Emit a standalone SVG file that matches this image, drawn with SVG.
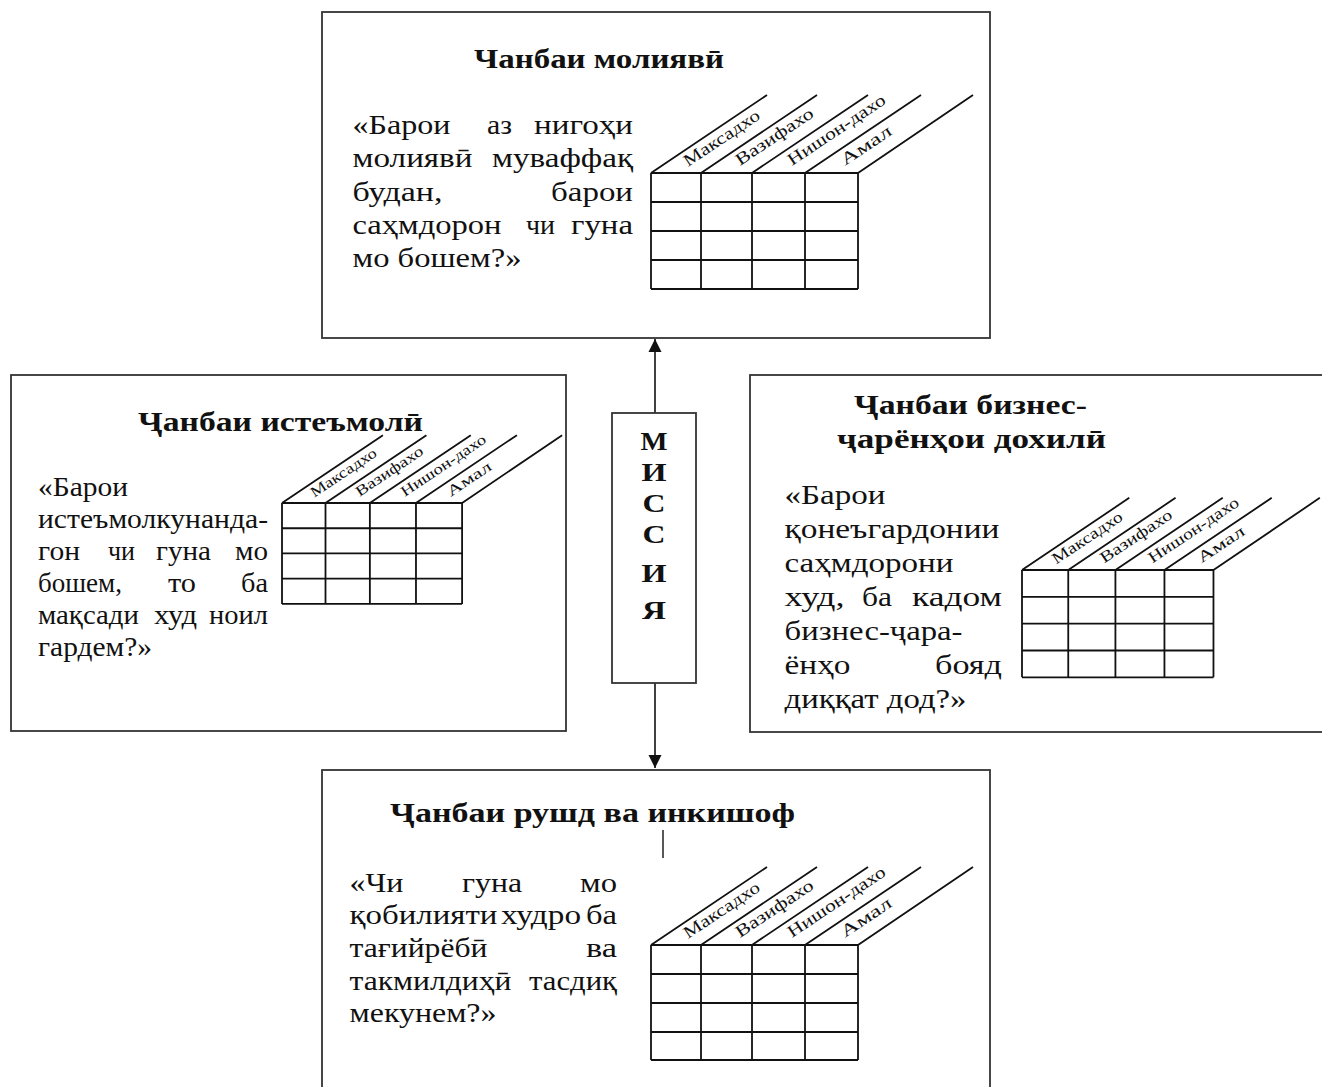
<svg xmlns="http://www.w3.org/2000/svg" width="1322" height="1087" viewBox="0 0 1322 1087">
<defs>
<style>
text{font-family:"Liberation Serif","Times New Roman",serif;fill:#111}
.ttl{font-weight:bold;font-size:28px}
.bd{font-size:27px}
.hd{font-size:17px}
.ms{font-weight:bold;font-size:26px}
.box{fill:#fff;stroke:#333;stroke-width:1.8}
.grid{fill:none;stroke:#111;stroke-width:1.8;vector-effect:non-scaling-stroke}
.con{stroke:#111;stroke-width:1.6;fill:none}
</style>
<marker id="arr" viewBox="0 0 10 10" refX="10" refY="5" markerUnits="userSpaceOnUse" markerWidth="13" markerHeight="14" orient="auto"><path d="M0,0L10,5L0,10z" fill="#111"/></marker>
</defs>
<rect width="1322" height="1087" fill="#fff"/>

<g id="connectors">
<line class="con" x1="655" y1="413" x2="655" y2="339" marker-end="url(#arr)"/>
<line class="con" x1="655" y1="683" x2="655" y2="768" marker-end="url(#arr)"/>
</g>

<g id="financial">
<rect class="box" x="322" y="12" width="668" height="326"/>
<text class="ttl" x="474" y="68" textLength="250" lengthAdjust="spacingAndGlyphs">Чанбаи молиявӣ</text>
<text class="bd" y="134"><tspan x="352.5" textLength="98" lengthAdjust="spacingAndGlyphs">«Барои</tspan> <tspan x="487" textLength="25" lengthAdjust="spacingAndGlyphs">аз</tspan> <tspan x="534" textLength="99" lengthAdjust="spacingAndGlyphs">нигоҳи</tspan></text>
<text class="bd" y="167"><tspan x="352.5" textLength="120" lengthAdjust="spacingAndGlyphs">молиявӣ</tspan> <tspan x="492" textLength="141" lengthAdjust="spacingAndGlyphs">муваффақ</tspan></text>
<text class="bd" y="201"><tspan x="352.5" textLength="90" lengthAdjust="spacingAndGlyphs">будан,</tspan> <tspan x="551" textLength="82" lengthAdjust="spacingAndGlyphs">барои</tspan></text>
<text class="bd" y="234"><tspan x="352.5" textLength="149" lengthAdjust="spacingAndGlyphs">саҳмдорон</tspan> <tspan x="526" textLength="29" lengthAdjust="spacingAndGlyphs">чи</tspan> <tspan x="571" textLength="62" lengthAdjust="spacingAndGlyphs">гуна</tspan></text>
<text class="bd" x="352.5" y="267" textLength="169" lengthAdjust="spacingAndGlyphs">мо бошем?»</text>
<g transform="translate(651,173)">
<path class="grid" d="M0 0H207M0 29H207M0 58H207M0 87H207M0 116H207M0 0V116M50 0V116M101 0V116M154 0V116M207 0V116M0 0L116 -78M50 0L166 -78M101 0L217 -78M154 0L270 -78M207 0L322 -78"/>
<text class="hd" transform="translate(37,-6) rotate(-33.7)" textLength="88" lengthAdjust="spacingAndGlyphs">Максадхо</text>
<text class="hd" transform="translate(89,-7) rotate(-33.7)" textLength="90" lengthAdjust="spacingAndGlyphs">Вазифахо</text>
<text class="hd" transform="translate(141,-7) rotate(-33.7)" textLength="114" lengthAdjust="spacingAndGlyphs">Нишон-дахо</text>
<text class="hd" transform="translate(194,-7) rotate(-33.7)" textLength="58" lengthAdjust="spacingAndGlyphs">Амал</text>
</g>
</g>

<g id="consumer">
<rect class="box" x="11" y="375" width="555" height="356"/>
<text class="ttl" x="138" y="431" textLength="285" lengthAdjust="spacingAndGlyphs">Ҷанбаи истеъмолӣ</text>
<text class="bd" x="38" y="496" textLength="90" lengthAdjust="spacingAndGlyphs">«Барои</text>
<text class="bd" x="38" y="528" textLength="230" lengthAdjust="spacingAndGlyphs">истеъмолкунанда-</text>
<text class="bd" y="560"><tspan x="38" textLength="42" lengthAdjust="spacingAndGlyphs">гон</tspan> <tspan x="108" textLength="27" lengthAdjust="spacingAndGlyphs">чи</tspan> <tspan x="156" textLength="55" lengthAdjust="spacingAndGlyphs">гуна</tspan> <tspan x="235" textLength="33" lengthAdjust="spacingAndGlyphs">мо</tspan></text>
<text class="bd" y="592"><tspan x="38" textLength="84" lengthAdjust="spacingAndGlyphs">бошем,</tspan> <tspan x="168" textLength="28" lengthAdjust="spacingAndGlyphs">то</tspan> <tspan x="241" textLength="27" lengthAdjust="spacingAndGlyphs">ба</tspan></text>
<text class="bd" y="624"><tspan x="38" textLength="101" lengthAdjust="spacingAndGlyphs">мақсади</tspan> <tspan x="154" textLength="43" lengthAdjust="spacingAndGlyphs">худ</tspan> <tspan x="209" textLength="59" lengthAdjust="spacingAndGlyphs">ноил</tspan></text>
<text class="bd" x="38" y="656" textLength="114" lengthAdjust="spacingAndGlyphs">гардем?»</text>
<g transform="translate(282,503) scale(0.87)">
<path class="grid" d="M0 0H207M0 29H207M0 58H207M0 87H207M0 116H207M0 0V116M50 0V116M101 0V116M154 0V116M207 0V116M0 0L116 -78M50 0L166 -78M101 0L217 -78M154 0L270 -78M207 0L322 -78"/>
<text class="hd" transform="translate(37,-6) rotate(-33.7)" textLength="88" lengthAdjust="spacingAndGlyphs">Максадхо</text>
<text class="hd" transform="translate(89,-7) rotate(-33.7)" textLength="90" lengthAdjust="spacingAndGlyphs">Вазифахо</text>
<text class="hd" transform="translate(141,-7) rotate(-33.7)" textLength="114" lengthAdjust="spacingAndGlyphs">Нишон-дахо</text>
<text class="hd" transform="translate(194,-7) rotate(-33.7)" textLength="58" lengthAdjust="spacingAndGlyphs">Амал</text>
</g>
</g>

<g id="mission">
<rect class="box" x="612" y="413" width="84" height="270"/>
<text class="ms" x="640.5" y="450" textLength="27" lengthAdjust="spacingAndGlyphs">М</text>
<text class="ms" x="641.5" y="481" textLength="25" lengthAdjust="spacingAndGlyphs">И</text>
<text class="ms" x="642.5" y="512" textLength="23" lengthAdjust="spacingAndGlyphs">С</text>
<text class="ms" x="642.5" y="543" textLength="23" lengthAdjust="spacingAndGlyphs">С</text>
<text class="ms" x="641.5" y="582" textLength="25" lengthAdjust="spacingAndGlyphs">И</text>
<text class="ms" x="642" y="619" textLength="24" lengthAdjust="spacingAndGlyphs">Я</text>
</g>

<g id="processes">
<rect class="box" x="750" y="375" width="600" height="357"/>
<text class="ttl" x="854" y="414" textLength="233" lengthAdjust="spacingAndGlyphs">Ҷанбаи бизнес-</text>
<text class="ttl" x="837" y="448" textLength="269" lengthAdjust="spacingAndGlyphs">ҷарёнҳои дохилӣ</text>
<text class="bd" x="784.5" y="504" textLength="101" lengthAdjust="spacingAndGlyphs">«Барои</text>
<text class="bd" x="784.5" y="538" textLength="215" lengthAdjust="spacingAndGlyphs">қонеъгардонии</text>
<text class="bd" x="784.5" y="572" textLength="169" lengthAdjust="spacingAndGlyphs">саҳмдорони</text>
<text class="bd" y="606"><tspan x="784.5" textLength="60" lengthAdjust="spacingAndGlyphs">худ,</tspan> <tspan x="862" textLength="30" lengthAdjust="spacingAndGlyphs">ба</tspan> <tspan x="912" textLength="90" lengthAdjust="spacingAndGlyphs">кадом</tspan></text>
<text class="bd" x="784.5" y="640" textLength="178" lengthAdjust="spacingAndGlyphs">бизнес-ҷара-</text>
<text class="bd" y="674"><tspan x="784.5" textLength="66" lengthAdjust="spacingAndGlyphs">ёнҳо</tspan> <tspan x="935" textLength="67" lengthAdjust="spacingAndGlyphs">бояд</tspan></text>
<text class="bd" x="784.5" y="708" textLength="182" lengthAdjust="spacingAndGlyphs">диққат дод?»</text>
<g transform="translate(1022,570) scale(0.925)">
<path class="grid" d="M0 0H207M0 29H207M0 58H207M0 87H207M0 116H207M0 0V116M50 0V116M101 0V116M154 0V116M207 0V116M0 0L116 -78M50 0L166 -78M101 0L217 -78M154 0L270 -78M207 0L322 -78"/>
<text class="hd" transform="translate(37,-6) rotate(-33.7)" textLength="88" lengthAdjust="spacingAndGlyphs">Максадхо</text>
<text class="hd" transform="translate(89,-7) rotate(-33.7)" textLength="90" lengthAdjust="spacingAndGlyphs">Вазифахо</text>
<text class="hd" transform="translate(141,-7) rotate(-33.7)" textLength="114" lengthAdjust="spacingAndGlyphs">Нишон-дахо</text>
<text class="hd" transform="translate(194,-7) rotate(-33.7)" textLength="58" lengthAdjust="spacingAndGlyphs">Амал</text>
</g>
</g>

<g id="growth">
<rect class="box" x="322" y="770" width="668" height="330"/>
<text class="ttl" x="390" y="822" textLength="405" lengthAdjust="spacingAndGlyphs">Ҷанбаи рушд ва инкишоф</text>
<line x1="663" y1="830" x2="663" y2="858" stroke="#111" stroke-width="1.4"/>
<text class="bd" y="892"><tspan x="349.5" textLength="54" lengthAdjust="spacingAndGlyphs">«Чи</tspan> <tspan x="462" textLength="60" lengthAdjust="spacingAndGlyphs">гуна</tspan> <tspan x="580" textLength="37" lengthAdjust="spacingAndGlyphs">мо</tspan></text>
<text class="bd" y="924"><tspan x="349.5" textLength="148" lengthAdjust="spacingAndGlyphs">қобилияти</tspan> <tspan x="501" textLength="80" lengthAdjust="spacingAndGlyphs">худро</tspan> <tspan x="586" textLength="31" lengthAdjust="spacingAndGlyphs">ба</tspan></text>
<text class="bd" y="957"><tspan x="349.5" textLength="138" lengthAdjust="spacingAndGlyphs">тағийрёбӣ</tspan> <tspan x="586" textLength="31" lengthAdjust="spacingAndGlyphs">ва</tspan></text>
<text class="bd" y="990"><tspan x="349.5" textLength="162" lengthAdjust="spacingAndGlyphs">такмилдиҳӣ</tspan> <tspan x="529" textLength="88" lengthAdjust="spacingAndGlyphs">тасдиқ</tspan></text>
<text class="bd" x="349.5" y="1022" textLength="147" lengthAdjust="spacingAndGlyphs">мекунем?»</text>
<g transform="translate(651,945)">
<path class="grid" d="M0 0H207M0 29H207M0 58H207M0 87H207M0 115H207M0 0V115M50 0V115M101 0V115M154 0V115M207 0V115M0 0L116 -78M50 0L166 -78M101 0L217 -78M154 0L270 -78M207 0L322 -78"/>
<text class="hd" transform="translate(37,-6) rotate(-33.7)" textLength="88" lengthAdjust="spacingAndGlyphs">Максадхо</text>
<text class="hd" transform="translate(89,-7) rotate(-33.7)" textLength="90" lengthAdjust="spacingAndGlyphs">Вазифахо</text>
<text class="hd" transform="translate(141,-7) rotate(-33.7)" textLength="114" lengthAdjust="spacingAndGlyphs">Нишон-дахо</text>
<text class="hd" transform="translate(194,-7) rotate(-33.7)" textLength="58" lengthAdjust="spacingAndGlyphs">Амал</text>
</g>
</g>
</svg>
